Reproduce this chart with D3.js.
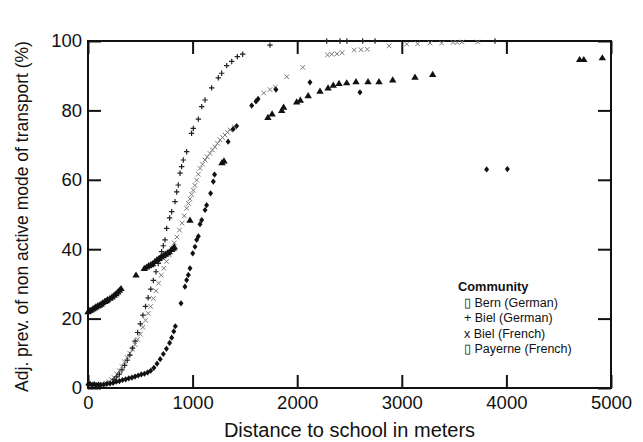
<!DOCTYPE html>
<html>
<head>
<meta charset="utf-8">
<script src="https://cdn.jsdelivr.net/npm/d3@7"></script>
<style>
  body { margin: 0; background: #fff; }
  text { font-family: "Liberation Sans", Arial, sans-serif; fill: #111; }
</style>
</head>
<body>
<script>
// data: [distance, percent]
var bernGerman = [
  [0, 1.0], [20, 1.2], [40, 0.9], [60, 1.1], [80, 0.8], [100, 1.0], [120, 0.9], [150, 1.0],
  [180, 1.2], [210, 1.3], [240, 1.5], [270, 1.8], [300, 2.0], [330, 2.3], [360, 2.5], [390, 2.8],
  [420, 3.0], [450, 3.3], [480, 3.6], [510, 3.9], [540, 4.1], [570, 4.5], [600, 5.0], [630, 5.8],
  [660, 7.0], [690, 8.3], [720, 9.8], [750, 11.3], [780, 13.0], [800, 14.5], [820, 16.3], [835, 17.8],
  [889, 24.4], [927, 29.2], [943, 31.1], [959, 32.6], [975, 34.5], [1001, 38.8], [1023, 40.7],
  [1039, 42.7], [1055, 43.7], [1071, 47.2], [1087, 48.4], [1119, 51.3], [1134, 52.7], [1172, 56.1],
  [1198, 59.5], [1210, 61.5], [1340, 71.0], [1387, 74.6], [1421, 75.5], [1565, 81.4], [1606, 82.6],
  [1626, 83.3], [1797, 86.0], [2122, 88.1], [2600, 85.2], [3811, 63.0], [4009, 63.1]
];

var bielGerman = [
  [250, 2.5], [275, 3.2], [300, 4.0], [325, 5.2], [350, 6.5], [375, 8.0], [400, 9.5], [425, 11.5],
  [450, 13.5], [475, 16.0], [500, 18.5], [525, 21.0], [550, 23.5], [575, 26.0], [600, 28.5],
  [625, 31.0], [650, 33.5], [672, 35.9], [690, 37.5], [704, 39.3], [720, 41.0], [736, 42.7],
  [752, 46.0], [780, 49.0], [800, 50.8], [832, 53.7], [848, 56.5], [863, 58.5], [880, 61.9],
  [895, 63.8], [911, 65.7], [943, 68.1], [990, 73.4], [1007, 74.8], [1055, 77.5], [1087, 81.1],
  [1119, 83.0], [1182, 86.5], [1246, 89.4], [1278, 90.7], [1326, 92.9], [1374, 94.1], [1428, 95.5],
  [1479, 96.2], [1740, 98.8], [2282, 100], [2410, 100], [2475, 100], [2626, 100], [2744, 100], [3891, 100]
];

var bielFrench = [
  [150, 1.0], [175, 1.4], [200, 1.8], [225, 2.4], [250, 3.0], [275, 4.0], [300, 5.0], [325, 6.2],
  [350, 7.5], [375, 8.8], [400, 10.0], [425, 11.2], [450, 12.5], [475, 14.0], [500, 15.5],
  [525, 17.5], [550, 19.5], [575, 21.5], [600, 23.5], [625, 25.8], [650, 28.0], [675, 30.2],
  [700, 32.5], [725, 34.5], [750, 36.5], [775, 38.4], [800, 40.2], [825, 41.8], [850, 43.5],
  [875, 45.5], [900, 47.5], [920, 49.6], [943, 51.8], [960, 53.2], [975, 54.5], [990, 55.8],
  [1007, 57.0], [1022, 58.4], [1039, 59.9], [1055, 61.6], [1071, 63.3], [1095, 64.5], [1119, 65.7],
  [1140, 66.6], [1166, 67.6], [1190, 68.6], [1214, 69.5], [1238, 70.5], [1262, 71.5], [1286, 72.2],
  [1310, 72.9], [1334, 73.7], [1358, 74.4], [1400, 75.2], [1680, 85.0], [1740, 86.0], [1790, 86.7],
  [1900, 89.7], [2053, 92.4], [2290, 96.0], [2330, 96.2], [2380, 96.3], [2430, 96.6], [2545, 97.4],
  [2610, 97.5], [2670, 97.6], [2878, 98.6], [3047, 99.1], [3151, 99.2], [3270, 99.4], [3381, 99.4],
  [3490, 99.6], [3530, 99.6], [3575, 99.7], [3725, 99.7]
];

var payerneFrench = [
  [0, 22.0], [15, 22.3], [29, 22.5], [45, 22.8], [60, 23.1], [75, 23.4], [92, 23.7], [108, 23.9],
  [125, 24.2], [140, 24.6], [160, 25.0], [175, 25.2], [188, 25.5], [210, 25.9], [230, 26.3],
  [250, 26.8], [268, 27.2], [285, 27.7], [300, 28.2], [316, 28.7], [459, 32.6], [538, 34.5],
  [560, 34.9], [580, 35.3], [600, 35.6], [618, 35.9], [640, 36.5], [660, 37.0], [680, 37.4],
  [698, 37.8], [720, 38.2], [740, 38.6], [760, 39.0], [777, 39.3], [800, 40.0], [815, 40.3],
  [825, 40.7], [975, 48.4], [1281, 65.0], [1300, 65.5], [1720, 78.0], [1760, 79.0], [1852, 80.0],
  [1870, 81.0], [1995, 82.5], [2030, 83.0], [2105, 84.3], [2218, 85.6], [2295, 86.5], [2345, 87.3],
  [2400, 87.8], [2473, 88.0], [2562, 88.3], [2677, 88.3], [2782, 88.3], [2913, 88.8], [3126, 89.6],
  [3295, 90.4], [4700, 94.7], [4740, 94.7], [4917, 95.2]
];

var xTicks = [0, 1000, 2000, 3000, 4000, 5000];
var yTicks = [0, 20, 40, 60, 80, 100];
var legendTitle = "Community";
var legendLabels = ["\u25AF Bern (German)", "+ Biel (German)", "x Biel (French)", "\u25AF Payerne (French)"];

var svgWidth = 643;
var svgHeight = 442;
var margin = { top: 41, right: 32, bottom: 54, left: 88 };
var width = svgWidth - margin.left - margin.right;
var height = svgHeight - margin.top - margin.bottom;

var svg = d3.select("body").append("svg")
  .attr("width", svgWidth)
  .attr("height", svgHeight);

var chart = svg.append("g")
  .attr("transform", `translate(${margin.left}, ${margin.top})`);

var x = d3.scaleLinear().domain([0, 5000]).range([0, width]);
var y = d3.scaleLinear().domain([0, 100]).range([height, 0]);

// axes with inward ticks on all four sides
var tickLen = 13;
function styleAxis(g) {
  g.select(".domain").remove();
  g.selectAll(".tick line").attr("stroke", "#111").attr("stroke-width", 2);
  g.selectAll(".tick text").style("font-size", "18.5px");
}

chart.append("g")
  .attr("transform", `translate(0, ${height})`)
  .call(d3.axisBottom(x).tickValues(xTicks).tickFormat(d3.format("d"))
    .tickSizeInner(-tickLen).tickSizeOuter(0).tickPadding(8))
  .call(styleAxis);

chart.append("g")
  .call(d3.axisLeft(y).tickValues(yTicks).tickSizeInner(-tickLen).tickSizeOuter(0).tickPadding(6))
  .call(styleAxis);

chart.append("g")
  .call(d3.axisTop(x).tickValues(xTicks).tickSizeInner(-tickLen).tickSizeOuter(0).tickFormat(""))
  .call(styleAxis);

chart.append("g")
  .attr("transform", `translate(${width}, 0)`)
  .call(d3.axisRight(y).tickValues(yTicks).tickSizeInner(-tickLen).tickSizeOuter(0).tickFormat(""))
  .call(styleAxis);

chart.append("rect")
  .attr("width", width)
  .attr("height", height)
  .attr("fill", "none")
  .attr("stroke", "#111")
  .attr("stroke-width", 2);

// marker shapes
var diamond = "M0,-3.1L2.5,0L0,3.1L-2.5,0Z";
var triangle = "M0,-3.5L3.7,2.7L-3.7,2.7Z";
var plus = "M-2.7,0H2.7M0,-2.7V2.7";
var cross = "M-2.3,-2.3L2.3,2.3M-2.3,2.3L2.3,-2.3";

var marks = chart.append("g");

marks.selectAll(".fr")
  .data(bielFrench)
  .enter().append("path")
  .attr("class", "fr")
  .attr("transform", d => `translate(${x(d[0])}, ${y(d[1])})`)
  .attr("d", cross)
  .attr("fill", "none")
  .attr("stroke", "#7a7a7a")
  .attr("stroke-width", 1);

marks.selectAll(".de")
  .data(bielGerman)
  .enter().append("path")
  .attr("class", "de")
  .attr("transform", d => `translate(${x(d[0])}, ${y(d[1])})`)
  .attr("d", plus)
  .attr("fill", "none")
  .attr("stroke", "#222")
  .attr("stroke-width", 1.2);

marks.selectAll(".bern")
  .data(bernGerman)
  .enter().append("path")
  .attr("class", "bern")
  .attr("transform", d => `translate(${x(d[0])}, ${y(d[1])})`)
  .attr("d", diamond)
  .attr("fill", "#111");

marks.selectAll(".pay")
  .data(payerneFrench)
  .enter().append("path")
  .attr("class", "pay")
  .attr("transform", d => `translate(${x(d[0])}, ${y(d[1])})`)
  .attr("d", triangle)
  .attr("fill", "#111");

// legend
var legend = svg.append("g").attr("transform", "translate(458, 291)");
legend.append("text")
  .style("font-size", "12.8px")
  .style("font-weight", "bold")
  .text(legendTitle);
legend.selectAll(".item")
  .data(legendLabels)
  .enter().append("text")
  .attr("class", "item")
  .attr("x", 6)
  .attr("y", (d, i) => 16 + i * 15.3)
  .style("font-size", "12.5px")
  .text(d => d);

// axis titles
svg.append("text")
  .attr("x", margin.left + width / 2)
  .attr("y", 437)
  .style("text-anchor", "middle")
  .style("font-size", "20px")
  .text("Distance to school in meters");

svg.append("text")
  .attr("transform", "rotate(-90)")
  .attr("x", -(margin.top + height / 2) - 2)
  .attr("y", 28)
  .style("text-anchor", "middle")
  .style("font-size", "17.5px")
  .text("Adj. prev. of non active mode of transport (%)");
</script>
</body>
</html>
